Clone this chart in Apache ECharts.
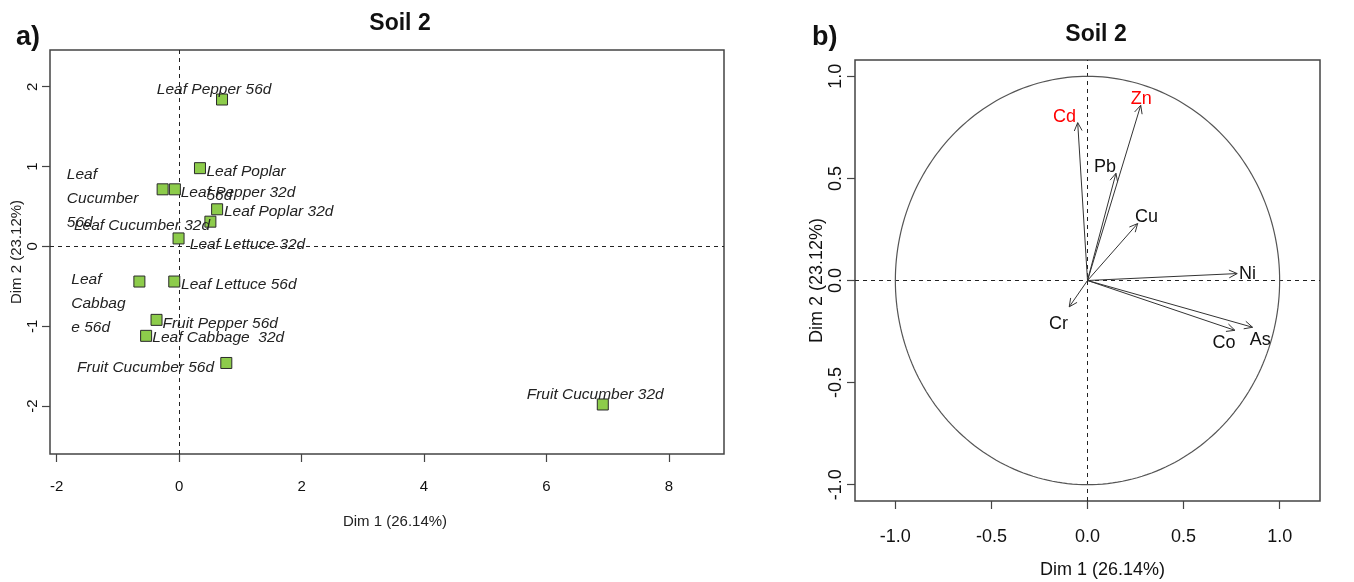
<!DOCTYPE html>
<html><head><meta charset="utf-8">
<script src="https://cdn.jsdelivr.net/npm/echarts@6/dist/echarts.min.js"></script>
<style>html,body{margin:0;padding:0;background:#fff}#c{width:1354px;height:582px}</style>
</head><body><div id="c"></div>
<script>
// ---- data: individuals (panel a) ----
const indNames = ['Leaf Pepper 56d','Leaf Poplar 56d','Leaf Cucumber 56d','Leaf Pepper 32d','Leaf Poplar 32d','Leaf Cucumber 32d','Leaf Lettuce 32d','Leaf Lettuce 56d','Leaf Cabbage 56d','Fruit Pepper 56d','Leaf Cabbage 32d','Fruit Cucumber 56d','Fruit Cucumber 32d'];
const indLabels = ['Leaf Pepper 56d','Leaf Poplar\n56d','Leaf\nCucumber\n56d','Leaf Pepper 32d','Leaf Poplar 32d','Leaf Cucumber 32d','Leaf Lettuce 32d','Leaf Lettuce 56d','Leaf\nCabbag\ne 56d','Fruit Pepper 56d','Leaf Cabbage  32d','Fruit Cucumber 56d','Fruit Cucumber 32d'];
const indDim1 = [0.70, 0.34, -0.27, -0.07, 0.62, 0.51, -0.01, -0.08, -0.65, -0.37, -0.54, 0.77, 6.92];
const indDim2 = [1.84, 0.98, 0.715, 0.715, 0.465, 0.31, 0.10, -0.44, -0.44, -0.92, -1.12, -1.46, -1.98];
const xTicksA = [-2, 0, 2, 4, 6, 8];
const yTicksA = [-2, -1, 0, 1, 2];

// ---- data: variables (panel b) ----
const varNames = ['Cd','Zn','Pb','Cu','Ni','Cr','Co','As'];
const varDim1 = [-0.051, 0.277, 0.148, 0.261, 0.779, -0.095, 0.767, 0.859];
const varDim2 = [0.773, 0.858, 0.525, 0.279, 0.034, -0.129, -0.244, -0.229];
const ticksB = [-1, -0.5, 0, 0.5, 1];

// ---- layout / style (not data) ----
const indLabelOffset = [[-64.7,-9.3],[7,15.7],[-95.3,9.7],[6.3,3.7],[7.3,3.4],[-136,4.7],[11.7,6.7],[7.3,3.3],[-67.6,22.3],[6.4,4.7],[6.7,2.7],[-148.7,5.4],[-75.6,-9]];
const varLabelOffset = [[-24.7,-5.3],[-10,-6],[-22,-6],[-2.7,-7],[1.7,0],[-20.3,16.7],[-22.3,12.3],[-2.7,12.3]];
const varColor = ['#ff0000','#ff0000','#111','#111','#111','#111','#111','#111'];
const FONT = '"Liberation Sans", Arial, sans-serif';
const SYM = 11;

const chart = echarts.init(document.getElementById('c'));

const indData = indNames.map((n, i) => ({
  name: n,
  value: [indDim1[i], indDim2[i]],
  label: {
    formatter: indLabels[i],
    position: [indLabelOffset[i][0] + SYM/2, indLabelOffset[i][1] + SYM/2]
  }
}));

const varData = varNames.map((n, i) => [varDim1[i], varDim2[i], i]);

const dashLine = {
  silent: true, symbol: 'none', z: 1,
  lineStyle: {type: [4, 4], color: '#222', width: 1},
  label: {show: false},
  emphasis: {disabled: true},
  animation: false,
  data: [{xAxis: 0}, {yAxis: 0}]
};

function axisCommon(ticks, fontSize, margin, rotate, fmt) {
  return {
    type: 'value',
    axisLine: {show: false, onZero: false},
    axisTick: {show: true, customValues: ticks, length: 8, lineStyle: {color: '#444', width: 1.2}},
    axisLabel: {customValues: ticks, fontSize: fontSize, color: '#111', fontFamily: FONT, margin: margin, rotate: rotate, formatter: fmt},
    splitLine: {show: false},
    nameLocation: 'middle',
    nameTextStyle: {fontFamily: FONT, color: '#111'}
  };
}

const option = {
  animation: false,
  backgroundColor: '#fff',
  grid: [
    {left: 50, top: 50, width: 674, height: 404, show: true, borderColor: '#444', borderWidth: 1.5, containLabel: false, outerBoundsMode: 'none'},
    {left: 855, top: 60, width: 465, height: 441, show: true, borderColor: '#444', borderWidth: 1.5, containLabel: false, outerBoundsMode: 'none'}
  ],
  xAxis: [
    Object.assign(axisCommon(xTicksA, 15, 25, 0, v => String(v)), {
      gridIndex: 0, min: -2.11, max: 8.9,
      name: 'Dim 1 (26.14%)', nameGap: 60, nameTextStyle: {fontFamily: FONT, color: '#222', fontSize: 15, padding: [0, 0, 0, 16]}
    }),
    Object.assign(axisCommon(ticksB, 18, 27, 0, v => v.toFixed(1)), {
      gridIndex: 1, min: -1.21, max: 1.21,
      name: 'Dim 1 (26.14%)', nameGap: 60, nameTextStyle: {fontFamily: FONT, color: '#111', fontSize: 18, padding: [0, 0, 0, 30]}
    })
  ],
  yAxis: [
    Object.assign(axisCommon(yTicksA, 15, 10, 90, v => String(v)), {
      gridIndex: 0, min: -2.6, max: 2.46,
      name: 'Dim 2 (23.12%)', nameGap: 26, nameTextStyle: {fontFamily: FONT, color: '#222', fontSize: 15}
    }),
    Object.assign(axisCommon(ticksB, 18, 10, 90, v => v.toFixed(1)), {
      gridIndex: 1, min: -1.08, max: 1.08,
      name: 'Dim 2 (23.12%)', nameGap: 27, nameTextStyle: {fontFamily: FONT, color: '#111', fontSize: 18}
    })
  ],
  graphic: [
    {type: 'text', x: 400, y: 24, style: {text: 'Soil 2', font: 'bold 23px ' + FONT, fill: '#111', align: 'center', verticalAlign: 'middle'}},
    {type: 'text', x: 1096, y: 35, style: {text: 'Soil 2', font: 'bold 23px ' + FONT, fill: '#111', align: 'center', verticalAlign: 'middle'}},
    {type: 'text', x: 16, y: 38, style: {text: 'a)', font: 'bold 27px ' + FONT, fill: '#111', align: 'left', verticalAlign: 'middle'}},
    {type: 'text', x: 812, y: 38, style: {text: 'b)', font: 'bold 27px ' + FONT, fill: '#111', align: 'left', verticalAlign: 'middle'}}
  ],
  series: [
    {
      type: 'scatter', xAxisIndex: 0, yAxisIndex: 0, z: 3,
      symbol: 'rect', symbolSize: SYM,
      itemStyle: {color: '#8dcc4b', borderColor: '#2a2a2a', borderWidth: 1, opacity: 1},
      label: {show: true, fontFamily: FONT, fontStyle: 'italic', fontSize: 15.5, color: '#222', lineHeight: 24, align: 'left', verticalAlign: 'middle'},
      emphasis: {disabled: true},
      data: indData,
      markLine: dashLine
    },
    {
      type: 'custom', xAxisIndex: 1, yAxisIndex: 1, z: 1, silent: true,
      data: [[0, 0]],
      renderItem: function (params, api) {
        const pts = [];
        for (let k = 0; k <= 240; k++) {
          const a = k / 240 * Math.PI * 2;
          pts.push(api.coord([Math.cos(a), Math.sin(a)]));
        }
        return {type: 'polyline', shape: {points: pts}, style: {stroke: '#555', lineWidth: 1.2, fill: null}};
      },
      markLine: dashLine
    },
    {
      type: 'custom', xAxisIndex: 1, yAxisIndex: 1, z: 3, silent: true,
      data: varData,
      renderItem: function (params, api) {
        const i = api.value(2);
        const p0 = api.coord([0, 0]);
        const p1 = api.coord([api.value(0), api.value(1)]);
        const ang = Math.atan2(p1[1] - p0[1], p1[0] - p0[0]);
        const hl = 9, ha = Math.PI / 7;
        const h1 = [p1[0] - hl * Math.cos(ang - ha), p1[1] - hl * Math.sin(ang - ha)];
        const h2 = [p1[0] - hl * Math.cos(ang + ha), p1[1] - hl * Math.sin(ang + ha)];
        const off = varLabelOffset[i];
        return {
          type: 'group',
          children: [
            {type: 'line', shape: {x1: p0[0], y1: p0[1], x2: p1[0], y2: p1[1]}, style: {stroke: '#333', lineWidth: 1}},
            {type: 'polyline', shape: {points: [h1, p1, h2]}, style: {stroke: '#333', lineWidth: 1, fill: null}},
            {type: 'text', x: p1[0] + off[0], y: p1[1] + off[1], style: {text: varNames[i], font: '18px ' + FONT, fill: varColor[i], align: 'left', verticalAlign: 'middle'}}
          ]
        };
      }
    }
  ]
};
chart.setOption(option);
</script>
</body></html>
